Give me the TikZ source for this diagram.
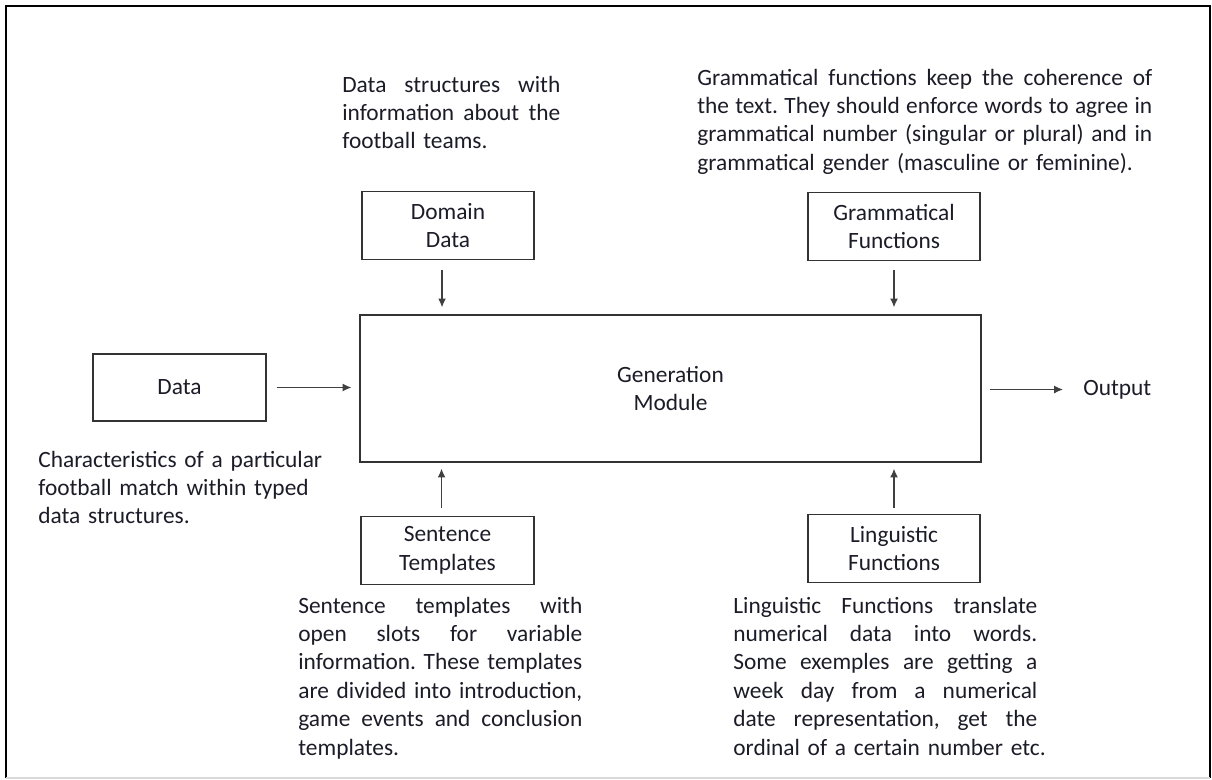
\documentclass[tikz,border=0pt]{standalone}
\usepackage{fontspec}
\setmainfont{Carlito}
\usetikzlibrary{arrows.meta}
\definecolor{txt}{HTML}{1C1C28}
\newcommand{\fullline}[1]{\leavevmode\hbox to \hsize{\spaceskip=\fontdimen2\font plus 1fil\relax #1}\\}
\frenchspacing

\begin{document}
\begin{tikzpicture}[x=0.02cm, y=-0.02cm,
  font=\fontsize{13.3}{16.2}\selectfont, text=txt,
  box/.style={draw=black!80, line width=0.8pt, align=center, minimum width=3.44cm, minimum height=1.36cm},
  note/.style={anchor=base west, inner sep=0pt},
  flow/.style={draw=black!75, line width=0.7pt, -{Latex[length=5pt,width=4.5pt]}}]

\useasboundingbox (0,0) rectangle (1212,779);
\draw[line width=1.5pt] (6,778) -- (6,6) -- (1210,6) -- (1210,778);
\draw[black!15, line width=1pt] (6,778) -- (1210,778);

\node[box] (domain) at (448,225.5) {Domain\\Data};
\node[box] (gram) at (894,226.5) {Grammatical\\Functions};
\node[box, minimum width=12.42cm, minimum height=2.94cm] (gen) at (670.5,388.5) {Generation\\Module};
\node[box, minimum width=3.46cm, minimum height=1.34cm] (data) at (179.5,387.5) {Data};
\node[box, minimum width=3.46cm] (sent) at (447.5,550.5) {Sentence\\Templates};
\node[box] (ling) at (894,548.5) {Linguistic\\Functions};
\node[anchor=west, inner sep=0pt] (out) at (1083,389.5) {Output};

\draw[flow, shorten <=5.7pt, shorten >=4pt] ([xshift=-3.4pt]domain.south) -- ([xshift=-3.4pt]domain.south |- gen.north);
\draw[flow, shorten <=5.1pt, shorten >=4pt] (gram.south) -- (gram.south |- gen.north);
\draw[flow, shorten <=5.7pt, shorten >=4.5pt] (data.east) -- (data.east -| gen.west);
\draw[flow, shorten <=4.5pt, shorten >=11.4pt] (gen.east |- out.west) -- (out.west);
\draw[flow, shorten <=4.5pt, shorten >=3.4pt] ([xshift=-3.4pt]sent.north) -- ([xshift=-3.4pt]sent.north |- gen.south);
\draw[flow, shorten <=3.4pt, shorten >=3.4pt] (ling.north) -- (ling.north |- gen.south);

\node[note, text width=4.36cm] (domainnote) at (342,92) {\fullline{Data structures with}\fullline{information about the}football teams.};
\node[note, text width=9.10cm] (gramnote) at (697,85) {\fullline{Grammatical functions keep the coherence of}\fullline{the text. They should enforce words to agree in}\fullline{grammatical number (singular or plural) and in}grammatical gender (masculine or feminine).};
\node[note, text width=6cm, align=left] (datanote) at (38,467) {Characteristics of a particular\\football match within typed\\data structures.};
\node[note, text width=5.68cm] (sentnote) at (298,613) {\fullline{Sentence templates with}\fullline{open slots for variable}\fullline{information. These templates}\fullline{are divided into introduction,}\fullline{game events and conclusion}templates.};
\node[note, text width=6.08cm] (lingnote) at (733,613) {\fullline{Linguistic Functions translate}\fullline{numerical data into words.}\fullline{Some exemples are getting a}\fullline{week day from a numerical}\fullline{date representation, get the}\mbox{ordinal of a certain number etc.}};

\end{tikzpicture}
\end{document}
